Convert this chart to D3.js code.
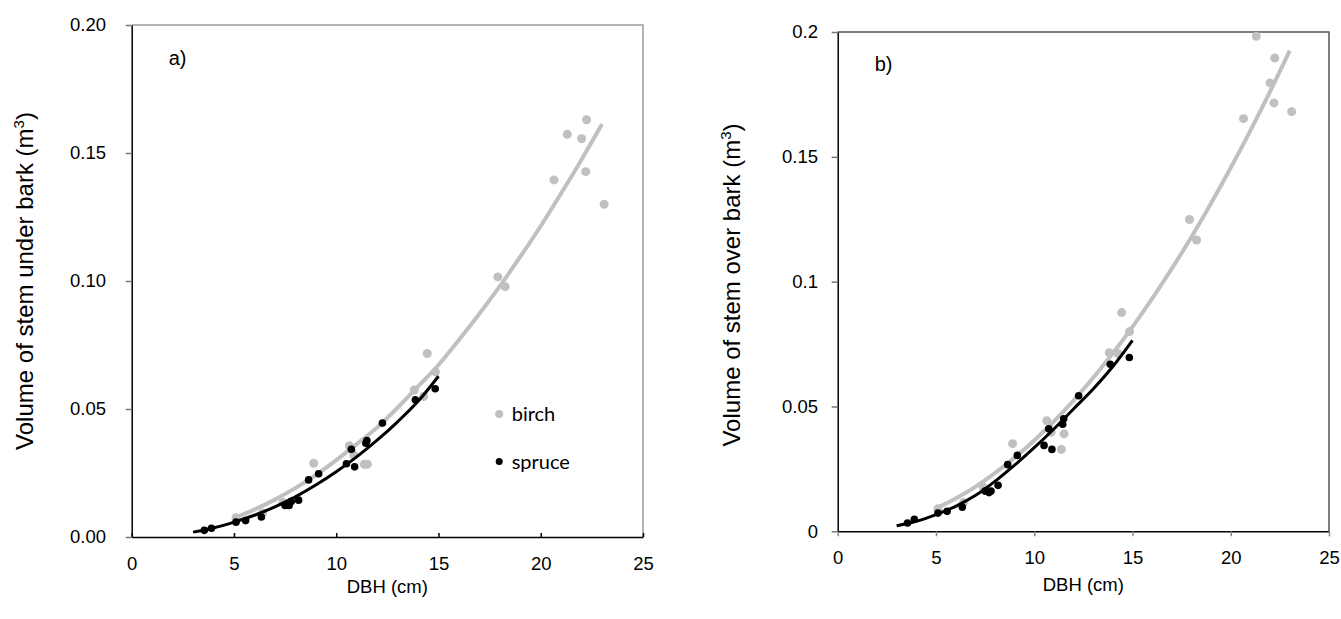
<!DOCTYPE html>
<html>
<head>
<meta charset="utf-8">
<script src="https://cdn.jsdelivr.net/npm/d3@7"></script>
<style>
  body { margin: 0; background: #fff; }
  text { font-family: "Liberation Sans", Arial, sans-serif; fill: #000; }
  .legend text { font-family: Lato, "Open Sans", sans-serif; }
</style>
</head>
<body>
<div id="chart"></div>
<script>
// measured points, birch (grey) and spruce (black)
const spruceDbh = [3.55, 3.9, 5.1, 5.57, 6.34, 7.5, 7.7, 7.8, 8.16, 8.65, 9.14, 10.5, 10.74, 10.9, 11.45, 11.5, 12.26, 13.87, 14.84];
const spruceUnder = [0.0026, 0.0034, 0.0058, 0.0064, 0.0078, 0.0123, 0.0123, 0.0139, 0.0144, 0.0223, 0.0247, 0.0286, 0.0343, 0.0274, 0.0366, 0.0377, 0.0445, 0.0536, 0.0579];
const spruceOver = [0.0033, 0.0048, 0.0073, 0.0080, 0.0097, 0.0161, 0.0155, 0.0161, 0.0184, 0.0267, 0.0304, 0.0344, 0.0411, 0.0328, 0.0429, 0.0451, 0.0543, 0.0669, 0.0696];

const birchDbh = [5.1, 6.4, 7.4, 8.9, 10.64, 10.86, 11.38, 11.52, 13.82, 14.27, 14.45, 14.85, 17.9, 18.26, 20.65, 21.3, 22.0, 22.2, 22.24, 23.1];
const birchUnder = [0.0075, 0.0094, 0.0135, 0.0288, 0.0356, 0.0321, 0.0284, 0.0284, 0.0574, 0.0549, 0.0717, 0.0645, 0.1016, 0.0978, 0.1395, 0.1573, 0.1556, 0.1427, 0.163, 0.130];
const birchOver = [0.0090, 0.0115, 0.0177, 0.0351, 0.0443, 0.0397, 0.0328, 0.0390, 0.0715, 0.0711, 0.0876, 0.0800, 0.1249, 0.1167, 0.1653, 0.1983, 0.1796, 0.1716, 0.1896, 0.1681];

// fitted curves
const birchFitDbh = [5, 6, 7, 8, 9, 10, 11, 12, 13, 14, 15, 16, 17, 18, 19, 20, 21, 22, 23];
const birchFitUnder = [0.0074, 0.0107, 0.0146, 0.0191, 0.0242, 0.0300, 0.0363, 0.0428, 0.0505, 0.0588, 0.0672, 0.0770, 0.0872, 0.0980, 0.1095, 0.1215, 0.1343, 0.1475, 0.1613];
const birchFitOver = [0.0091, 0.0131, 0.0178, 0.0233, 0.0295, 0.0364, 0.0440, 0.0524, 0.0615, 0.0713, 0.0819, 0.0932, 0.1052, 0.1179, 0.1314, 0.1456, 0.1605, 0.1761, 0.1925];
const spruceFitDbh = [3, 4, 5, 6, 7, 8, 9, 10, 11, 12, 13, 14, 15];
const spruceFitUnder = [0.0019, 0.0035, 0.0058, 0.0085, 0.0118, 0.0157, 0.0203, 0.0255, 0.0313, 0.0378, 0.0450, 0.0530, 0.0628];
const spruceFitOver = [0.0022, 0.0040, 0.0067, 0.0100, 0.0143, 0.0200, 0.0265, 0.0335, 0.0410, 0.0490, 0.0570, 0.0660, 0.0765];

const xTicks = [0, 5, 10, 15, 20, 25];
const yTickValues = [0, 0.05, 0.1, 0.15, 0.2];
const yTickLabelsA = ['0.00', '0.05', '0.10', '0.15', '0.20'];
const yTickLabelsB = ['0', '0.05', '0.1', '0.15', '0.2'];

const width = 1341, height = 619;
const svg = d3.select('#chart').append('svg')
    .attr('width', width)
    .attr('height', height);

const zip = (xs, ys) => xs.map((x, i) => ({ x: x, y: ys[i] }));

function drawPanel(opt) {
    const g = svg.append('g').attr('transform', `translate(${opt.left},${opt.top})`);
    const x = d3.scaleLinear().domain([0, 25]).range([0, opt.w]);
    const y = d3.scaleLinear().domain([0, 0.2]).range([opt.h, 0]);

    // plot border (top, right)
    g.append('path')
        .attr('d', `M0,0H${opt.w}V${opt.h}`)
        .attr('fill', 'none')
        .attr('stroke', opt.frame)
        .attr('stroke-width', 1.5);

    const line = d3.line().x(d => x(d.x)).y(d => y(d.y)).curve(d3.curveMonotoneX);

    g.append('path')
        .datum(zip(birchFitDbh, opt.birchFit))
        .attr('fill', 'none')
        .attr('stroke', '#c0c0c0')
        .attr('stroke-width', 4)
        .attr('d', line);

    g.selectAll('.birch')
        .data(zip(birchDbh, opt.birch))
        .enter().append('circle')
        .attr('class', 'birch')
        .attr('cx', d => x(d.x))
        .attr('cy', d => y(d.y))
        .attr('r', 4.5)
        .attr('fill', '#c0c0c0');

    g.append('path')
        .datum(zip(spruceFitDbh, opt.spruceFit))
        .attr('fill', 'none')
        .attr('stroke', '#000')
        .attr('stroke-width', 3)
        .attr('d', line);

    g.selectAll('.spruce')
        .data(zip(spruceDbh, opt.spruce))
        .enter().append('circle')
        .attr('class', 'spruce')
        .attr('cx', d => x(d.x))
        .attr('cy', d => y(d.y))
        .attr('r', 3.8)
        .attr('fill', '#000');

    const xAxis = g.append('g')
        .attr('transform', `translate(0,${opt.h})`)
        .call(d3.axisBottom(x).tickValues(xTicks).tickSizeOuter(0)
            .tickSizeInner(opt.xTick).tickPadding(opt.xPad));
    xAxis.select('.domain').attr('stroke', '#000').attr('stroke-width', 1.5);
    xAxis.selectAll('.tick line').attr('stroke', opt.xTickColor).attr('stroke-width', 1.5);
    xAxis.selectAll('text').style('font-size', '18.5px').attr('font-family', null);

    const yAxis = g.append('g')
        .call(d3.axisLeft(y).tickValues(yTickValues).tickSizeOuter(0)
            .tickSizeInner(6).tickPadding(opt.yPad)
            .tickFormat((d, i) => opt.yLabels[i]));
    yAxis.select('.domain').attr('stroke', '#000').attr('stroke-width', 1.5);
    yAxis.selectAll('.tick line').attr('stroke', '#777').attr('stroke-width', 1.5);
    yAxis.selectAll('text').style('font-size', '18.5px').attr('font-family', null);

    // panel letter
    g.append('text')
        .attr('x', opt.letterX)
        .attr('y', opt.letterY)
        .style('font-size', '20px')
        .text(opt.letter);

    // axis titles
    g.append('text')
        .attr('x', opt.w / 2)
        .attr('y', opt.xTitleY)
        .attr('text-anchor', 'middle')
        .style('font-size', '18.5px')
        .text('DBH (cm)');

    const yt = g.append('text')
        .attr('transform', `translate(${opt.yTitleX},${opt.yTitleY}) rotate(-90)`)
        .attr('text-anchor', 'middle')
        .style('font-size', '24px');
    yt.append('tspan').text(opt.yTitle + ' (m');
    yt.append('tspan').attr('dy', -9).style('font-size', '15px').text('3');
    yt.append('tspan').attr('dy', 9).text(')');

    return { g: g, x: x, y: y };
}

const a = drawPanel({
    left: 131.7, top: 25, w: 511.3, h: 512, frame: '#9a9a9a',
    birch: birchUnder, spruce: spruceUnder,
    birchFit: birchFitUnder, spruceFit: spruceFitUnder,
    xTick: -4, xPad: 20, xTickColor: '#000', yPad: 19.7, yLabels: yTickLabelsA,
    letter: 'a)', letterX: 37, letterY: 40,
    xTitleY: 568, yTitleX: -99, yTitleY: 256,
    yTitle: 'Volume of stem under bark'
});

const b = drawPanel({
    left: 837.7, top: 32, w: 491.3, h: 499.3, frame: '#555',
    birch: birchOver, spruce: spruceOver,
    birchFit: birchFitOver, spruceFit: spruceFitOver,
    xTick: 5, xPad: 15, xTickColor: '#888', yPad: 13.7, yLabels: yTickLabelsB,
    letter: 'b)', letterX: 37, letterY: 39,
    xTitleY: 559, yTitleX: -98, yTitleY: 253,
    yTitle: 'Volume of stem over bark'
});

// legend (panel a)
const legend = a.g.append('g').attr('class', 'legend');
const legendItems = [
    { name: 'birch', color: '#c0c0c0', r: 4, dy: 0 },
    { name: 'spruce', color: '#000', r: 3.5, dy: 47.5 }
];
legendItems.forEach(item => {
    legend.append('circle')
        .attr('cx', 367.5)
        .attr('cy', 389 + item.dy)
        .attr('r', item.r)
        .attr('fill', item.color);
    legend.append('text')
        .attr('x', 380)
        .attr('y', 396 + item.dy)
        .style('font-size', '20px')
        .text(item.name);
});
</script>
</body>
</html>
